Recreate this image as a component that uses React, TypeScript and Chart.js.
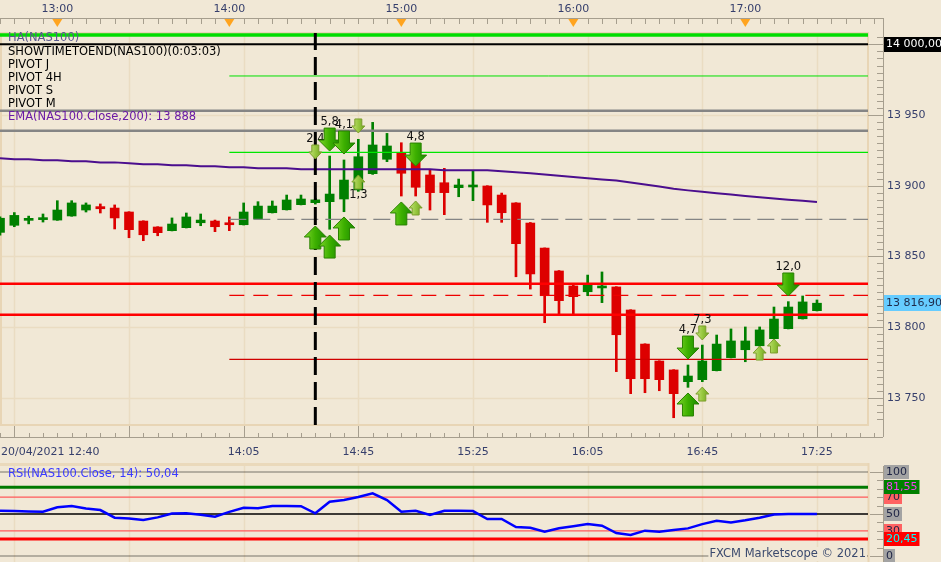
import { useEffect, useRef } from 'react'
import { Chart, registerables } from 'chart.js'

Chart.register(...registerables)

const BG = '#F1E8D6'
const GRID = '#EADCC2'
const AXIS = '#A69E8E'
const LABEL = '#363F6C'
const FONT = '"DejaVu Sans", Verdana, sans-serif'

// NAS100 Heikin-Ashi candles, 5 min, 12:40 -> 17:25
const opens = [
  13867, 13872, 13875.5, 13876, 13875.7, 13878.6, 13882.8, 13885.2, 13884.2, 13881.4,
  13875, 13870.8, 13868.2, 13870.3, 13873.8, 13875, 13873.6, 13872.4, 13876.7, 13880.9,
  13883, 13886.6, 13888, 13888.7, 13890.6, 13897, 13908.5, 13918.7, 13923.3, 13917,
  13907.6, 13902.1, 13898.6, 13899.1, 13899.8, 13893.4, 13887.8, 13873.6, 13855.9, 13839.7,
  13829.1, 13825, 13827.7, 13828.4, 13812.1, 13788, 13776, 13769.7, 13761.4, 13762.8,
  13769.2, 13778.4, 13784, 13786.8, 13791.8, 13798.9, 13805.9, 13811.6,
]
const highs = [
  13878, 13881, 13878.5, 13880, 13889.4, 13889.4, 13887.8, 13887.1, 13886.4, 13881.6,
  13875.2, 13871, 13877.2, 13880.7, 13880, 13875.7, 13877.9, 13887.8, 13888.7, 13889.2,
  13893.4, 13893.4, 13891, 13921, 13918.2, 13932.8, 13944.8, 13937, 13930.4, 13922,
  13911.6, 13912.3, 13904.7, 13910.6, 13900, 13894.8, 13888, 13874, 13856, 13840,
  13830.5, 13836.8, 13839, 13828.6, 13812.3, 13788.2, 13776.2, 13769.9, 13773.2, 13787.3,
  13794.4, 13798.7, 13800.1, 13800.1, 13814.2, 13818, 13822, 13819.2,
]
const lows = [
  13865, 13871, 13873, 13874.3, 13875.5, 13878.4, 13881.4, 13880.7, 13869.4, 13863.2,
  13861.1, 13864.6, 13868, 13870.1, 13871.7, 13867.5, 13868.2, 13872.2, 13876.5, 13880.7,
  13882.8, 13886.4, 13887, 13869.2, 13881.6, 13896, 13908, 13917, 13892.7, 13892.7,
  13882.8, 13879.5, 13892.2, 13889.4, 13874.1, 13874.1, 13835.6, 13826.9, 13803.1, 13809,
  13809, 13822.2, 13817.3, 13768.5, 13752.9, 13753.6, 13755, 13735.9, 13757.4, 13761.4,
  13769, 13778.2, 13775.5, 13786.6, 13791.6, 13798.7, 13805.7, 13811.4,
]
const closes = [
  13877, 13879, 13876.5, 13876.8, 13882.8, 13887.8, 13886.4, 13883.7, 13877.2, 13868.9,
  13865.3, 13866.8, 13872.9, 13877.9, 13875.7, 13871, 13872.4, 13881.4, 13885.6, 13885.6,
  13889.9, 13890.6, 13890, 13894.1, 13904, 13920.5, 13928.8, 13928.1, 13908.8, 13898.9,
  13895.1, 13895.1, 13900.5, 13900.5, 13886.4, 13880.9, 13859, 13837.6, 13822.2, 13818.7,
  13821.5, 13829.8, 13828.6, 13794.6, 13763.5, 13763.5, 13762.8, 13752.9, 13765.4, 13776,
  13788, 13790.2, 13790.2, 13798, 13805.7, 13814.2, 13817.8, 13816.9,
]
const ema200 = [
  13919.4, 13918.7, 13918.7, 13918.0, 13918.0, 13917.3, 13917.3, 13916.5, 13916.5, 13915.8,
  13915.1, 13915.1, 13914.4, 13914.4, 13913.7, 13913.7, 13913.0, 13913.0, 13912.3, 13912.3,
  13912.3, 13911.6, 13911.6, 13911.6, 13911.6, 13911.6, 13911.6, 13911.6, 13911.6, 13911.6,
  13911.6, 13910.9, 13910.9, 13910.9, 13910.9, 13910.2, 13909.5, 13908.8, 13907.9, 13907.0,
  13906.2, 13905.2, 13904.4, 13903.7, 13902.3, 13900.8, 13899.4, 13897.9, 13896.7, 13895.7,
  13894.6, 13893.7, 13892.8, 13891.9, 13890.9, 13890.1, 13889.3, 13888.5,
]
const rsi14 = [
  53.9, 53.5, 53, 52.7, 58, 59.5, 56.5, 54.7, 45.6, 44.8,
  43, 46, 50.5, 50.8, 49, 46.8, 52.5, 57.4, 56.8, 59.5,
  59.5, 59.3, 50.8, 64.5, 66.5, 70, 74.5, 66.5, 52.7, 53.9,
  48.8, 53.9, 53.9, 53.5, 44.1, 44.1, 34.5, 33.8, 29.1, 33.1,
  35.5, 38.2, 36.2, 27.5, 25.2, 30.3, 29.1, 31, 33, 38,
  42, 40, 42.5, 45.5, 49.5, 50, 50, 50.04,
]

// time axis
const topHourLabels = ['13:00', '14:00', '15:00', '16:00', '17:00']
const topHourIdx = [4, 16, 28, 40, 52]
const bottomLabels = ['20/04/2021 12:40', '14:05', '14:45', '15:25', '16:05', '16:45', '17:25']
const bottomLabelIdx = [0, 17, 25, 33, 41, 49, 57]
const majorIdx = [1, 9, 17, 25, 33, 41, 49, 57]
const priceTicks = [13750, 13800, 13850, 13900, 13950, 14000]

// horizontal levels (pivots etc.) and where they start
const levelPrices = [14006.6, 14000, 13977.6, 13953, 13938.9, 13923.6, 13876.2, 13830.7, 13822.4, 13808.8, 13777.2]
const levelStartIdx = [0, 0, 16, 0, 0, 16, 16, 0, 16, 0, 16]
const markerIdx = 22

// signal arrows
const downArrowIdx = [22, 23, 24, 25, 29, 48, 49, 55]
const downArrowPrice = [13918.9, 13924.5, 13922.4, 13937.3, 13913.9, 13777.4, 13790.9, 13822]
const downArrowBig = [false, true, true, false, true, true, false, true]
const downArrowLabel = ['2,4', '5,8', '4,1', '', '4,8', '4,7', '7,3', '12,0']
const upArrowIdx = [22, 23, 24, 25, 28, 29, 48, 49, 53, 54]
const upArrowPrice = [13871.5, 13865.1, 13877.9, 13907.6, 13888.5, 13889.2, 13753.4, 13757.6, 13786.6, 13791.6]
const upArrowBig = [true, true, true, false, true, false, true, false, false, false]
const upArrowLabel = ['', '', '', '1,3', '', '', '', '', '', '']

const legendRows = ['HA(NAS100)', 'SHOWTIMETOEND(NAS100)(0:03:03)', 'PIVOT J', 'PIVOT 4H', 'PIVOT S', 'PIVOT M', 'EMA(NAS100.Close,200): 13 888']

// RSI levels
const rsiLevels = [100, 70, 50, 30, 0]
const rsiHigh = 81.55
const rsiLow = 20.45

const X_MIN = 0
const X_MAX = 60.56
const Y_MIN = 13730.76
const Y_MAX = 14008

const fmtInt = (v: number) => Math.round(v).toString().replace(/\B(?=(\d{3})+(?!\d))/g, ' ')
const fmtDec = (v: number) => {
  const [a, b] = v.toFixed(2).split('.')
  return a.replace(/\B(?=(\d{3})+(?!\d))/g, ' ') + ',' + b
}

function hline(ctx: CanvasRenderingContext2D, x1: number, x2: number, y: number) {
  const yy = Math.round(y) + 0.5
  ctx.beginPath()
  ctx.moveTo(x1, yy)
  ctx.lineTo(x2, yy)
  ctx.stroke()
}
function vline(ctx: CanvasRenderingContext2D, x: number, y1: number, y2: number) {
  const xx = Math.round(x) + 0.5
  ctx.beginPath()
  ctx.moveTo(xx, y1)
  ctx.lineTo(xx, y2)
  ctx.stroke()
}
function text(ctx: CanvasRenderingContext2D, s: string, x: number, y: number, color: string, align: CanvasTextAlign = 'left', size = 11) {
  ctx.font = `${size}px ${FONT}`
  ctx.fillStyle = color
  ctx.textAlign = align
  ctx.textBaseline = 'middle'
  ctx.fillText(s, x, y)
}
function valueBox(ctx: CanvasRenderingContext2D, s: string, x: number, y: number, bg: string, fg: string) {
  ctx.font = `11px ${FONT}`
  const w = ctx.measureText(s).width + 4
  ctx.fillStyle = bg
  ctx.fillRect(x, Math.round(y - 7), w, 14)
  text(ctx, s, x + 2, y, fg)
}

function drawArrow(ctx: CanvasRenderingContext2D, x: number, tip: number, down: boolean, big: boolean) {
  const w = big ? 22 : 13
  const h = big ? 23 : 14
  const headH = big ? 11 : 7
  const sw = big ? 11 : 7
  const d = down ? -1 : 1
  const base = tip + d * headH
  const end = tip + d * h
  const g = ctx.createLinearGradient(x - w / 2, 0, x + w / 2, 0)
  if (big) {
    g.addColorStop(0, '#7ED62A')
    g.addColorStop(0.5, '#3DB000')
    g.addColorStop(1, '#1A8A00')
  } else {
    g.addColorStop(0, '#C4E37A')
    g.addColorStop(0.5, '#98C840')
    g.addColorStop(1, '#6FA420')
  }
  ctx.beginPath()
  ctx.moveTo(x, tip)
  ctx.lineTo(x + w / 2, base)
  ctx.lineTo(x + sw / 2, base)
  ctx.lineTo(x + sw / 2, end)
  ctx.lineTo(x - sw / 2, end)
  ctx.lineTo(x - sw / 2, base)
  ctx.lineTo(x - w / 2, base)
  ctx.closePath()
  ctx.fillStyle = g
  ctx.fill()
  ctx.lineWidth = 1
  ctx.strokeStyle = big ? '#2A8200' : '#7C9E2C'
  ctx.stroke()
}

const mainBackground = {
  id: 'mainBackground',
  beforeDraw(chart: any) {
    const { ctx, chartArea: a, scales } = chart
    const { x, y } = scales
    ctx.save()
    ctx.fillStyle = BG
    ctx.fillRect(0, 0, chart.width, chart.height)
    ctx.strokeStyle = GRID
    ctx.lineWidth = 1.5
    majorIdx.forEach((i) => vline(ctx, x.getPixelForValue(i), a.top, a.bottom))
    priceTicks.forEach((p) => hline(ctx, a.left, a.right, y.getPixelForValue(p)))
    ctx.strokeStyle = '#E8D5B5'
    ctx.lineWidth = 2
    ctx.strokeRect(a.left + 1, a.top, a.right - a.left - 1, a.bottom - a.top)
    ctx.restore()
  },
}

const mainOverlay = {
  id: 'mainOverlay',
  afterDatasetsDraw(chart: any) {
    const { ctx, scales } = chart
    const { x, y } = scales
    ctx.save()
    downArrowIdx.forEach((i, k) => {
      const px = x.getPixelForValue(i)
      const tip = y.getPixelForValue(downArrowPrice[k])
      drawArrow(ctx, px, tip, true, downArrowBig[k])
      if (downArrowLabel[k]) {
        const h = downArrowBig[k] ? 23 : 14
        text(ctx, downArrowLabel[k], px, tip - h - 6, '#111111', 'center', 11.5)
      }
    })
    upArrowIdx.forEach((i, k) => {
      const px = x.getPixelForValue(i)
      const tip = y.getPixelForValue(upArrowPrice[k])
      drawArrow(ctx, px, tip, false, upArrowBig[k])
      if (upArrowLabel[k]) {
        const h = upArrowBig[k] ? 23 : 14
        text(ctx, upArrowLabel[k], px, tip + h + 6, '#111111', 'center', 11.5)
      }
    })
    ctx.restore()
  },
}

const mainAxes = {
  id: 'mainAxes',
  afterDraw(chart: any) {
    const { ctx, chartArea: a, scales } = chart
    const { x, y } = scales
    const axisX = a.right + 15
    const topY = 18
    const botY = 437
    ctx.save()
    ctx.strokeStyle = AXIS
    ctx.lineWidth = 1

    // top time axis
    hline(ctx, 0, axisX, topY)
    for (let i = 0; x.getPixelForValue(i) < axisX - 2; i++) {
      vline(ctx, x.getPixelForValue(i), topY, topY + 6)
    }
    topHourIdx.forEach((i, k) => {
      const px = x.getPixelForValue(i)
      text(ctx, topHourLabels[k], px, 9, LABEL, 'center')
      ctx.beginPath()
      ctx.moveTo(px - 5, topY + 1)
      ctx.lineTo(px + 5, topY + 1)
      ctx.lineTo(px, topY + 9)
      ctx.closePath()
      ctx.fillStyle = '#FFA41F'
      ctx.fill()
    })

    // right price axis
    vline(ctx, axisX, topY, botY)
    for (let p = Math.ceil(Y_MIN / 5) * 5; p <= Y_MAX; p += 5) {
      const py = y.getPixelForValue(p)
      if (p % 50 === 0) hline(ctx, a.right, axisX, py)
      else hline(ctx, axisX - 6, axisX, py)
    }
    priceTicks.forEach((p) => {
      if (p !== levelPrices[1]) text(ctx, fmtInt(p), axisX + 4, y.getPixelForValue(p), LABEL)
    })
    const blackY = y.getPixelForValue(levelPrices[1])
    ctx.fillStyle = '#000000'
    ctx.fillRect(axisX + 1, Math.round(blackY - 7.5), chart.width - axisX, 15)
    text(ctx, fmtDec(levelPrices[1]), axisX + 3, blackY, '#FFFFFF')
    const last = closes[closes.length - 1]
    const lastY = y.getPixelForValue(last)
    ctx.fillStyle = '#66CCFF'
    ctx.fillRect(axisX + 1, Math.round(lastY - 8), chart.width - axisX, 16)
    text(ctx, fmtDec(last), axisX + 3, lastY, '#1E2A4A')

    // bottom time axis
    ctx.strokeStyle = AXIS
    hline(ctx, 0, axisX, botY)
    for (let i = 0; x.getPixelForValue(i) < axisX - 2; i++) {
      vline(ctx, x.getPixelForValue(i), botY - 4, botY)
    }
    majorIdx.forEach((i) => vline(ctx, x.getPixelForValue(i), a.bottom + 1, botY))
    bottomLabelIdx.forEach((i, k) => {
      if (k === 0) text(ctx, bottomLabels[k], 1, 452, LABEL)
      else text(ctx, bottomLabels[k], x.getPixelForValue(i), 452, LABEL, 'center')
    })

    // indicator legend
    legendRows.forEach((s, k) => {
      const color = k === 0 ? '#5A5A8E' : k === legendRows.length - 1 ? '#6A1AA6' : '#000000'
      text(ctx, s, 8, 38.5 + k * 13.1, color, 'left', 11.5)
    })
    ctx.restore()
  },
}

const rsiBackground = {
  id: 'rsiBackground',
  beforeDraw(chart: any) {
    const { ctx, chartArea: a, scales } = chart
    const { x } = scales
    ctx.save()
    ctx.fillStyle = BG
    ctx.fillRect(0, 0, chart.width, chart.height)
    ctx.fillStyle = '#EAD9BB'
    ctx.fillRect(0, 1, a.right, 3)
    ctx.strokeStyle = GRID
    ctx.lineWidth = 1.5
    majorIdx.forEach((i) => vline(ctx, x.getPixelForValue(i), 4, chart.height))
    ctx.strokeStyle = '#E8D5B5'
    ctx.lineWidth = 2
    vline(ctx, a.right, 1, chart.height)
    ctx.restore()
  },
}

const rsiOverlay = {
  id: 'rsiOverlay',
  afterDatasetsDraw(chart: any) {
    const { ctx, chartArea: a } = chart
    ctx.save()
    const credit = 'FXCM Marketscope © 2021'
    ctx.font = `11.5px ${FONT}`
    const w = ctx.measureText(credit).width
    ctx.fillStyle = BG
    ctx.fillRect(a.right - 3 - w, 85, w + 2, 14)
    text(ctx, credit, a.right - 2, 92, '#3B4A6E', 'right', 11.5)
    text(ctx, 'RSI(NAS100.Close, 14): ' + fmtDec(rsi14[rsi14.length - 1]), 8, 12, '#3A3AFF', 'left', 11.5)
    ctx.restore()
  },
  afterDraw(chart: any) {
    const { ctx, chartArea: a, scales } = chart
    const { y } = scales
    const axisX = a.right + 15
    ctx.save()
    ctx.strokeStyle = AXIS
    ctx.lineWidth = 1
    vline(ctx, axisX, 4, chart.height)
    for (let v = 0; v <= 100; v += 10) {
      const py = y.getPixelForValue(v)
      hline(ctx, v % 50 === 0 ? axisX - 13 : axisX - 6, axisX, py)
    }
    rsiLevels.forEach((v) => {
      const bg = v === 70 || v === 30 ? '#FF6262' : '#A3A3A3'
      valueBox(ctx, String(v), axisX + 1, y.getPixelForValue(v), bg, '#1E2444')
    })
    valueBox(ctx, fmtDec(rsiHigh), axisX + 1, y.getPixelForValue(rsiHigh), '#008000', '#F040F0')
    valueBox(ctx, fmtDec(rsiLow), axisX + 1, y.getPixelForValue(rsiLow), '#FF0000', '#00FFFF')
    ctx.restore()
  },
}

export default function App() {
  const mainRef = useRef<HTMLCanvasElement>(null)
  const rsiRef = useRef<HTMLCanvasElement>(null)

  useEffect(() => {
    if (!mainRef.current || !rsiRef.current) return
    document.body.style.margin = '0'
    document.body.style.background = BG

    const idx = opens.map((_, i) => i)
    const candleColors = idx.map((i) => (closes[i] >= opens[i] ? '#008000' : '#DD0000'))

    const levelStyles = [
      { color: '#00DD00', width: 3.5 },
      { color: '#000000', width: 2 },
      { color: '#00E000', width: 1 },
      { color: '#858585', width: 2.5 },
      { color: '#858585', width: 2.5 },
      { color: '#00E600', width: 1.3 },
      { color: '#858585', width: 1.3, dash: [17, 7] },
      { color: '#FF0000', width: 2.5 },
      { color: '#EE0000', width: 1.3, dash: [15, 9] },
      { color: '#FF0000', width: 2.5 },
      { color: '#D00000', width: 1.3 },
    ]

    const levelSets = levelPrices.map((p, k) => ({
      type: 'line' as const,
      data: [
        { x: levelStartIdx[k], y: p },
        { x: X_MAX, y: p },
      ],
      borderColor: levelStyles[k].color,
      borderWidth: levelStyles[k].width,
      borderDash: levelStyles[k].dash || [],
      pointRadius: 0,
      order: 1,
    }))

    const main = new Chart(mainRef.current, {
      type: 'bar',
      data: {
        datasets: [
          {
            type: 'bar',
            data: idx.map((i) => ({ x: i, y: [lows[i], highs[i]] })) as any,
            backgroundColor: candleColors,
            barThickness: 2,
            minBarLength: 1,
            grouped: false,
            order: 4,
          },
          {
            type: 'bar',
            data: idx.map((i) => ({ x: i, y: [opens[i], closes[i]] })) as any,
            backgroundColor: candleColors,
            barThickness: 9,
            minBarLength: 2,
            grouped: false,
            order: 3,
          },
          {
            type: 'line',
            data: idx.map((i) => ({ x: i, y: ema200[i] })) as any,
            borderColor: '#4B0E8E',
            borderWidth: 2,
            pointRadius: 0,
            order: 2,
          },
          ...(levelSets as any[]),
          {
            type: 'line',
            data: [
              { x: markerIdx, y: Y_MIN },
              { x: markerIdx, y: Y_MAX },
            ] as any,
            borderColor: '#000000',
            borderWidth: 3,
            borderDash: [18, 7],
            pointRadius: 0,
            order: 0,
          },
        ],
      },
      options: {
        responsive: true,
        maintainAspectRatio: false,
        animation: false,
        events: [],
        layout: { padding: { left: 0, top: 33, right: 73, bottom: 37 } },
        plugins: { legend: { display: false }, tooltip: { enabled: false } },
        scales: {
          x: { type: 'linear', min: X_MIN, max: X_MAX, display: false, offset: false },
          y: { type: 'linear', min: Y_MIN, max: Y_MAX, display: false, beginAtZero: false },
        },
      },
      plugins: [mainBackground, mainOverlay, mainAxes],
    })

    const rsiLineStyles = [
      { color: '#000000', width: 1.3 },
      { color: '#FF5A5A', width: 1.2 },
      { color: '#000000', width: 1.3 },
      { color: '#FF5A5A', width: 1.2 },
      { color: '#000000', width: 1.3 },
    ]
    const rsiLevelSets = rsiLevels.map((v, k) => ({
      type: 'line' as const,
      data: [
        { x: X_MIN, y: v },
        { x: X_MAX, y: v },
      ],
      borderColor: rsiLineStyles[k].color,
      borderWidth: rsiLineStyles[k].width,
      pointRadius: 0,
      order: 2,
    }))

    const rsi = new Chart(rsiRef.current, {
      type: 'line',
      data: {
        datasets: [
          ...(rsiLevelSets as any[]),
          {
            data: [
              { x: X_MIN, y: rsiHigh },
              { x: X_MAX, y: rsiHigh },
            ] as any,
            borderColor: '#007A00',
            borderWidth: 3,
            pointRadius: 0,
            order: 1,
          },
          {
            data: [
              { x: X_MIN, y: rsiLow },
              { x: X_MAX, y: rsiLow },
            ] as any,
            borderColor: '#FF0000',
            borderWidth: 3,
            pointRadius: 0,
            order: 1,
          },
          {
            data: idx.map((i) => ({ x: i, y: rsi14[i] })) as any,
            borderColor: '#0000FF',
            borderWidth: 2.5,
            pointRadius: 0,
            order: 0,
          },
        ],
      },
      options: {
        responsive: true,
        maintainAspectRatio: false,
        animation: false,
        events: [],
        layout: { padding: { left: 0, top: 9.7, right: 73, bottom: 5.7 } },
        plugins: { legend: { display: false }, tooltip: { enabled: false } },
        scales: {
          x: { type: 'linear', min: X_MIN, max: X_MAX, display: false },
          y: { type: 'linear', min: 0, max: 100, display: false },
        },
      },
      plugins: [rsiBackground, rsiOverlay],
    })

    return () => {
      main.destroy()
      rsi.destroy()
    }
  }, [])

  return (
    <div style={{ position: 'relative', width: 941, height: 562, background: BG, overflow: 'hidden' }}>
      <div style={{ position: 'absolute', left: 0, top: 0, width: 941, height: 462 }}>
        <canvas ref={mainRef} />
      </div>
      <div style={{ position: 'absolute', left: 0, top: 462, width: 941, height: 100 }}>
        <canvas ref={rsiRef} />
      </div>
    </div>
  )
}
